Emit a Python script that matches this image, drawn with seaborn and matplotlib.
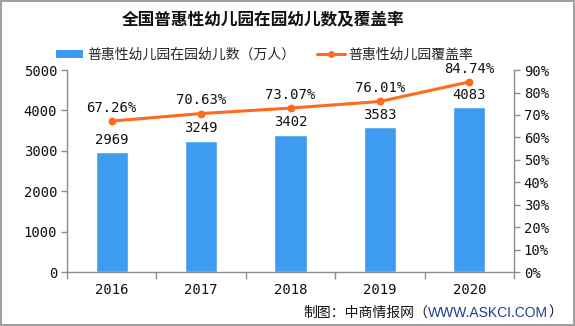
import matplotlib
matplotlib.use("Agg")
import matplotlib.pyplot as plt
import seaborn as sns
import pandas as pd
from matplotlib.patches import Patch
from matplotlib.lines import Line2D
from matplotlib.ticker import FuncFormatter, FixedLocator

years = ["2016", "2017", "2018", "2019", "2020"]
enrolled = [2969, 3249, 3402, 3583, 4083]          # 万人
coverage = [67.26, 70.63, 73.07, 76.01, 84.74]     # %

bar_label = "普惠性幼儿园在园幼儿数（万人）"
line_label = "普惠性幼儿园覆盖率"
title = "全国普惠性幼儿园在园幼儿数及覆盖率"

BAR_COLOR = "#3d9cf0"
LINE_COLOR = "#ff6a1f"
AXIS_COLOR = "#8c8c8c"

sns.set_theme(style="white")
plt.rcParams["font.family"] = ["Noto Sans CJK SC", "DejaVu Sans"]
plt.rcParams["axes.unicode_minus"] = False

df = pd.DataFrame({"year": years, "enrolled": enrolled, "coverage": coverage})

fig = plt.figure(figsize=(5.75, 3.26), dpi=100)
fig.patch.set_facecolor("white")
fig.patch.set_edgecolor("#a0a0a0")
fig.patch.set_linewidth(1.5)

ax = fig.add_axes([0.1165, 0.1656, 0.7775, 0.6194])
sns.barplot(data=df, x="year", y="enrolled", color=BAR_COLOR, width=0.36,
            saturation=1, ax=ax)
ax.set_ylim(0, 5000)
ax.set_yticks(range(0, 5001, 1000))
ax.set_xlabel("")
ax.set_ylabel("")

ax2 = ax.twinx()
sns.pointplot(data=df, x="year", y="coverage", color=LINE_COLOR, ax=ax2,
              markers="o", markersize=4, linewidth=2.2, errorbar=None)
ax2.set_ylim(0, 90)
ax2.set_yticks(range(0, 91, 10))
ax2.yaxis.set_major_formatter(FuncFormatter(lambda v, _: f"{int(v)}%"))
ax2.set_ylabel("")
ax.set_xlim(-0.5, 4.5)

num_font = "DejaVu Sans Mono"

# value labels
for i, v in enumerate(enrolled):
    ax.annotate(f"{v}", (i, v), xytext=(0, 4), textcoords="offset points",
                ha="center", va="bottom", fontsize=10, family=num_font,
                color="#111111")
for i, v in enumerate(coverage):
    ax2.annotate(f"{v:.2f}%", (i, v), xytext=(0, 4.5), textcoords="offset points",
                 ha="center", va="bottom", fontsize=10, family=num_font,
                 color="#111111")

# spines and ticks
for a in (ax, ax2):
    for s in a.spines.values():
        s.set_visible(False)
ax.spines["left"].set_visible(True)
ax.spines["bottom"].set_visible(True)
ax2.spines["right"].set_visible(True)
for s in (ax.spines["left"], ax.spines["bottom"], ax2.spines["right"]):
    s.set_color(AXIS_COLOR)
    s.set_linewidth(1.0)

ax.tick_params(axis="y", which="major", left=True, length=4, width=1,
               color=AXIS_COLOR, labelsize=10, labelcolor="#111111", pad=3)
ax2.tick_params(axis="y", which="major", right=True, length=4, width=1,
                color=AXIS_COLOR, labelsize=10, labelcolor="#111111", pad=3)
ax.xaxis.set_minor_locator(FixedLocator([-0.5, 0.5, 1.5, 2.5, 3.5, 4.5]))
ax.tick_params(axis="x", which="major", bottom=False, length=0,
               labelsize=10, labelcolor="#111111", pad=8)
ax.tick_params(axis="x", which="minor", bottom=True, length=5, width=1,
               color=AXIS_COLOR)
for lab in ax.get_yticklabels() + ax2.get_yticklabels() + ax.get_xticklabels():
    lab.set_family(num_font)

# title
fig.text(0.457, 0.937, title, ha="center", va="center", fontsize=12,
         fontweight="bold", color="#111111")

# legend
handles = [
    Patch(facecolor=BAR_COLOR, edgecolor="none", label=bar_label),
    Line2D([0], [0], color=LINE_COLOR, lw=2.2, marker="o", markersize=4,
           label=line_label),
]
fig.legend(handles=handles, loc="center", bbox_to_anchor=(0.46, 0.832),
           ncol=2, frameon=False, fontsize=10, handlelength=2.0,
           handleheight=0.55, handletextpad=0.25, columnspacing=1.6)

# source note
t1 = fig.text(0.527, 0.04, "制图：中商情报网（", ha="left", va="center",
              fontsize=10, color="#111111")
t2 = fig.text(0, 0, "WWW.ASKCI.COM", fontsize=10, color="#1d3f8c",
              family=["Liberation Sans", "DejaVu Sans"])
fig.canvas.draw()
r = fig.canvas.get_renderer()
bb1 = t1.get_window_extent(r)
t2.set_position(((bb1.x1) / fig.bbox.width, 0.04))
t2.set_va("center")
fig.canvas.draw()
bb2 = t2.get_window_extent(r)
fig.text(bb2.x1 / fig.bbox.width, 0.04, "）", ha="left", va="center",
         fontsize=10, color="#111111")

fig.savefig("out.png", dpi=100, facecolor=fig.get_facecolor(),
            edgecolor=fig.get_edgecolor())
